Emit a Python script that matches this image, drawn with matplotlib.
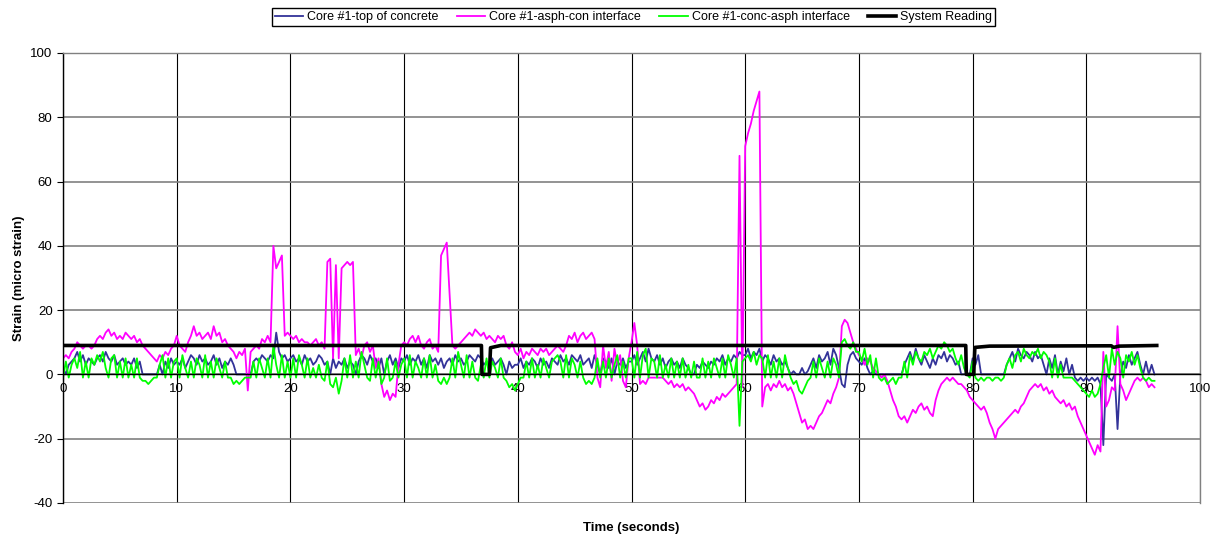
import numpy as np
import matplotlib
matplotlib.use('Agg')
import matplotlib.pyplot as plt

plt.rcParams['font.family'] = ['Liberation Sans', 'DejaVu Sans']
plt.rcParams['axes.unicode_minus'] = False

# sample times (0.25 s steps, 0 - 96 s)
time_s = np.arange(0, 96.01, 0.25)

# Core #1-top of concrete
top_concrete = [
    2, 0, 3, 4, 5, 7, 4, 6, 3, 5, 4, 3, 5, 6, 4, 7, 5, 4, 6, 3, 4, 5, 3, 4, 3, 5, 2, 4, 0, 0, 0, 0, 0, 0, 3, 0, 4, 2, 5, 3,
    4, 3, 5, 2, 4, 6, 5, 3, 6, 4, 5, 3, 4, 6, 3, 5, 2, 4, 3, 5, 3, 0, 0, 0, 0, 0, 0, 4, 5, 4, 6, 5, 4, 6, 5, 13, 7, 5, 6, 4,
    5, 6, 4, 5, 3, 6, 4, 5, 3, 4, 6, 5, 3, 4, 0, 5, 2, 4, 3, 5, 2, 4, 3, 0, 4, 6, 5, 3, 6, 4, 5, 2, 5, 0, 4, 6, 3, 5, 2, 5,
    4, 6, 3, 5, 4, 6, 3, 5, 2, 6, 4, 5, 3, 5, 2, 4, 5, 3, 6, 4, 5, 3, 4, 6, 5, 4, 6, 5, 3, 4, 2, 5, 3, 4, 5, 3, 0, 4, 2, 3,
    3, 5, 2, 4, 3, 5, 4, 2, 5, 3, 4, 2, 5, 4, 3, 6, 4, 5, 3, 6, 5, 4, 6, 3, 4, 5, 2, 6, 3, 0, 5, 4, 2, 5, 0, 4, 3, 5, 2, 4,
    4, 6, 3, 5, 7, 4, 8, 5, 4, 6, 3, 5, 2, 4, 5, 3, 4, 2, 5, 3, 2, 0, 0, 3, 2, 4, 3, 2, 4, 3, 5, 4, 6, 3, 5, 4, 6, 5, 7, 6,
    6, 8, 5, 7, 6, 8, 4, 6, 5, 3, 6, 4, 5, 3, 4, 2, 0, 1, 0, 0, 2, 0, 1, 3, 5, 2, 6, 4, 5, 7, 3, 8, 6, 2, -3, -4, 3, 6, 7, 5,
    4, 3, 5, 2, 0, 1, 0, 0, 0, 0, 0, 0, 0, 0, 0, 0, 3, 5, 7, 4, 8, 5, 3, 6, 4, 2, 5, 3, 6, 5, 7, 4, 6, 5, 3, 4, 0, 0, 0, 0,
    5, 3, 6, 0, 0, 0, 0, 0, 0, 0, 0, 0, 3, 5, 7, 4, 8, 6, 5, 7, 6, 4, 7, 5, 6, 3, 0, 5, 2, 6, 0, 4, 1, 5, 0, 3, -1, -2, -1, -2,
    -1, -2, -1, -2, -1, -3, -22, 0, -1, -2, 0, -17, 0, 4, 2, 6, 3, 5, 7, 3, 0, 4, 0, 3, 0,
]

# Core #1-asph-con interface
asph_con = [
    5, 6, 5, 7, 8, 10, 9, 8, 9, 9, 8, 9, 11, 12, 11, 13, 14, 12, 13, 11, 12, 11, 13, 12, 11, 12, 10, 11, 9, 8, 7, 6, 5, 4, 6, 5, 7, 6, 8, 9,
    12, 9, 8, 7, 10, 12, 15, 12, 13, 11, 12, 13, 11, 15, 12, 13, 10, 11, 9, 8, 7, 5, 7, 6, 8, -5, 7, 8, 9, 8, 11, 10, 12, 10, 40, 33, 35, 37, 12, 13,
    12, 11, 12, 10, 11, 10, 10, 9, 10, 11, 9, 10, 8, 35, 36, 5, 34, 5, 33, 34, 35, 34, 35, 6, 8, 5, 9, 10, 7, 9, 2, 5, -3, -7, -5, -8, -6, -7, 3, 9,
    10, 9, 11, 12, 10, 12, 9, 8, 10, 11, 8, 9, 7, 37, 39, 41, 25, 9, 8, 9, 10, 11, 12, 13, 12, 14, 13, 12, 13, 11, 12, 11, 10, 12, 11, 12, 9, 8, 10, 7,
    6, 8, 5, 7, 6, 8, 7, 6, 8, 7, 8, 6, 7, 8, 9, 8, 7, 9, 12, 11, 13, 10, 12, 13, 11, 12, 13, 11, -1, -4, 9, 2, 7, -2, 8, 3, 6, -2, -4, 5,
    10, 16, 9, -3, -2, -3, -1, -1, -1, -1, -1, -1, -2, -3, -2, -4, -3, -4, -3, -5, -4, -5, -6, -8, -10, -9, -11, -10, -8, -9, -7, -8, -6, -7, -6, -5, -4, -3, 68, -4,
    71, 75, 78, 82, 85, 88, -10, -4, -3, -5, -3, -4, -2, -4, -3, -5, -4, -6, -9, -12, -15, -14, -17, -16, -17, -15, -13, -12, -10, -8, -9, -6, -4, -1, 15, 17, 16, 13, 10, 8,
    6, 5, 3, 5, 4, 2, 1, 0, -1, 0, -2, -5, -8, -10, -13, -14, -13, -15, -13, -11, -12, -10, -9, -11, -10, -12, -13, -8, -5, -3, -2, -1, -2, -1, -2, -3, -3, -4, -5, -7,
    -8, -9, -10, -11, -10, -12, -15, -17, -20, -17, -16, -15, -14, -13, -12, -11, -12, -10, -9, -7, -5, -4, -3, -4, -3, -5, -4, -6, -5, -7, -8, -9, -8, -10, -9, -11, -10, -13, -15, -17,
    -19, -21, -23, -25, -22, -24, 7, -10, -8, -4, -5, 15, -3, -5, -8, -6, -4, -2, -1, -2, -1, -2, -4, -3, -4,
]

# Core #1-conc-asph interface
conc_asph = [
    -1, 4, -1, 3, 5, 2, 7, -1, 4, -1, 5, 3, 6, 4, 7, 2, -1, 5, 6, -1, 4, -1, 5, -1, 3, -1, 5, -1, -2, -2, -3, -2, -1, -1, 3, 6, -1, 5, -1, 4,
    5, -1, 6, 2, -1, 4, -1, 5, 3, -1, 6, -1, 4, -1, 5, 2, -1, 4, -1, -1, -3, -2, -3, -2, -1, -1, -1, 4, -1, 5, 2, -1, 5, -1, 9, 3, -1, 6, -1, 4,
    -1, 5, -1, 6, 3, -1, 5, -1, 2, -1, 3, -1, -2, 4, -3, -4, -1, -6, -2, 5, -1, 6, -1, 4, -1, 7, 3, -1, -2, 5, -1, 4, -3, -1, 5, -2, -1, 4, -1, 3,
    5, -1, 6, -1, 4, 2, -1, 5, -1, 6, -1, 3, -2, -3, -1, -3, -1, 5, -1, 7, 3, -1, 6, -1, 4, -1, -2, 3, -1, 5, -1, 4, 2, -1, 5, -1, -2, -4, -3, -5,
    -3, -1, -1, 4, -1, 5, -1, 3, -1, 5, 2, -1, 4, 5, 6, 4, -1, 6, -1, 5, 3, -1, 4, -1, -3, -2, -3, -1, 5, -1, 4, -1, 5, -1, 3, 6, -1, 4, -1, 5,
    5, -1, 7, -1, 6, 8, -1, 5, 4, -1, 6, -1, 3, -1, 5, -1, 4, -1, 5, -1, 3, -1, 4, -1, -1, 5, -1, 4, -1, 5, 2, -1, 5, -1, 6, 3, -1, 5, -16, 4,
    5, 6, 4, 7, 3, 6, 5, -1, 6, -1, 4, -1, 5, -1, 6, 2, -1, -3, -2, -5, -6, -4, -2, -1, 4, -1, 5, 2, -1, 4, -1, 5, 3, -1, 10, 11, 9, 8, 10, 7,
    7, 4, 8, 3, 6, -1, 5, -1, -2, -1, -3, -2, -1, -3, -1, -1, 4, -1, 6, 3, 7, 5, 4, 7, 6, 8, 5, 7, 9, 8, 10, 9, 7, 8, 5, 3, 6, 2, 0, -1,
    4, -1, -2, -1, -2, -1, -1, -2, -1, -1, -2, -1, 3, 5, 2, 6, 7, 4, 8, 6, 5, 7, 6, 8, 5, 7, 6, 4, -1, 5, -1, 3, -1, -1, -1, -1, -2, -3, -4, -5,
    -6, -7, -5, -7, -6, -3, 2, 6, -1, 8, 3, 7, 5, -1, 6, 4, 7, 3, 6, 2, -1, -2, -1, -2, -2,
]

# System Reading (step breakpoints)
system_t = [0, 36.8, 36.85, 37.5, 37.6, 38.5, 79.4, 79.45, 80.1, 80.2, 81.5, 92.2, 92.4, 92.9, 96.2]
system_v = [9, 9, 0, 0, 8.3, 9, 9, 0, 0, 8.4, 8.8, 8.9, 8.4, 8.8, 9]

fig = plt.figure(figsize=(12.17, 5.36), dpi=100)
ax = fig.add_axes([0.0518, 0.0616, 0.9342, 0.8396])

ax.plot(time_s, top_concrete, color='#333399', linewidth=1.3, label='Core #1-top of concrete')
ax.plot(time_s, asph_con, color='#FF00FF', linewidth=1.3, label='Core #1-asph-con interface')
ax.plot(time_s, conc_asph, color='#00FF00', linewidth=1.3, label='Core #1-conc-asph interface')
ax.plot(system_t, system_v, color='black', linewidth=2.6, label='System Reading')

ax.set_xlim(0, 100)
ax.set_ylim(-40, 100)
ax.set_xticks(np.arange(0, 101, 10))
ax.set_yticks(np.arange(-40, 101, 20))

ax.yaxis.grid(True, color='#808080', linewidth=1.2)
ax.xaxis.grid(True, color='black', linewidth=0.8)
ax.set_axisbelow(True)

ax.spines['bottom'].set_position(('data', 0))
ax.spines['bottom'].set_color('black')
ax.spines['left'].set_color('black')
ax.spines['top'].set_color('#808080')
ax.spines['right'].set_color('#808080')
for s in ax.spines.values():
    s.set_linewidth(1.0)

ax.tick_params(axis='both', labelsize=9.5, length=4, width=0.8)
ax.tick_params(axis='x', pad=2)

ax.set_ylabel('Strain (micro strain)', fontsize=9.5, fontweight='bold', labelpad=4)
ax.set_xlabel('Time (seconds)', fontsize=9.5, fontweight='bold')
ax.xaxis.set_label_coords(0.5, -0.042)

fig.legend(loc='center', bbox_to_anchor=(0.5205, 0.968), ncol=4, fontsize=9,
           fancybox=False, edgecolor='black', framealpha=1, borderpad=0.25,
           columnspacing=1.45, handlelength=2.3, handletextpad=0.3)

plt.savefig('out.png', dpi=100)
